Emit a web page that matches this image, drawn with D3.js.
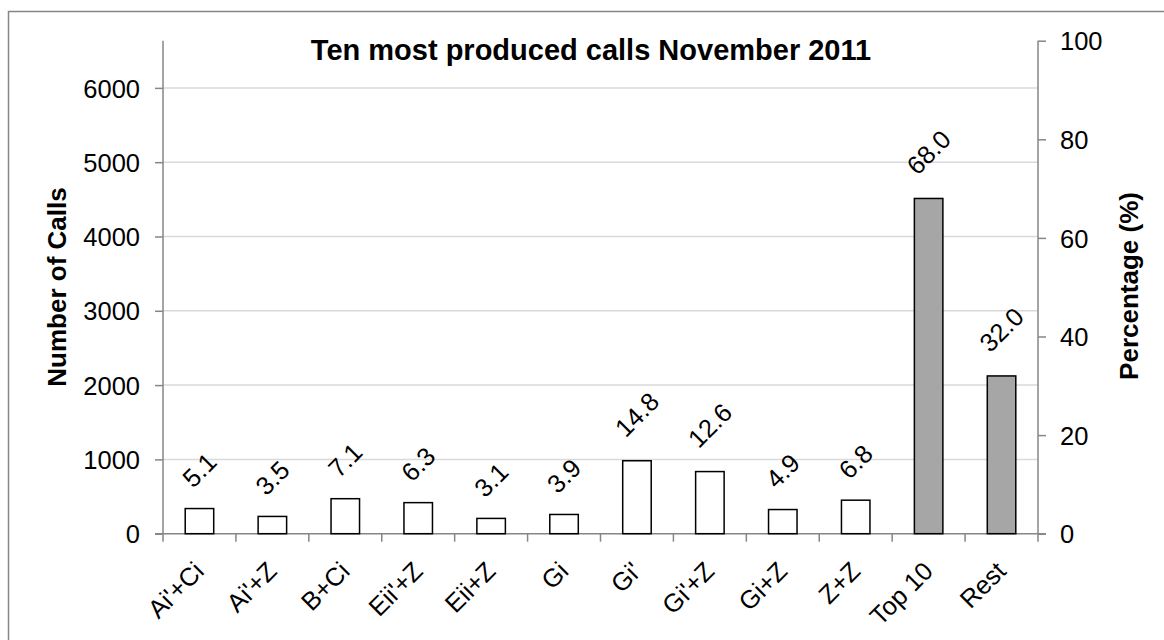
<!DOCTYPE html>
<html>
<head>
<meta charset="utf-8">
<script src="https://cdn.jsdelivr.net/npm/d3@7"></script>
<style>
  html, body { margin: 0; padding: 0; background: #fff; }
  svg { display: block; font-family: "Liberation Sans", Arial, sans-serif; }
</style>
</head>
<body>
<svg id="chart" width="1164" height="640"></svg>
<script>
// Call types, in display order
const categories = ["Ai'+Ci", "Ai'+Z", "B+Ci", "Eii'+Z", "Eii+Z", "Gi", "Gi'", "Gi'+Z", "Gi+Z", "Z+Z", "Top 10", "Rest"];
// Share of all calls (%)
const percentages = [5.1, 3.5, 7.1, 6.3, 3.1, 3.9, 14.8, 12.6, 4.9, 6.8, 68.0, 32.0];
// Summary bars are shaded grey
const summaryGroups = ["Top 10", "Rest"];
// Total number of calls: the count axis spans 0..total so it lines up with 0..100 %
const totalCalls = 6635;
const countTicks = [0, 1000, 2000, 3000, 4000, 5000, 6000];
const percentTicks = [0, 20, 40, 60, 80, 100];

const svg = d3.select("#chart");
const axisGrey = "#868686";
const gridGrey = "#d9d9d9";
const labelSize = 25.5;

const plotLeft = 163, plotRight = 1038, plotTop = 40.7, plotBottom = 533.7;

const x = d3.scaleBand().domain(categories).range([plotLeft, plotRight]).paddingInner(0).paddingOuter(0);
const yCount = d3.scaleLinear().domain([0, totalCalls]).range([plotBottom, plotTop]);
const yPct = d3.scaleLinear().domain([0, 100]).range([plotBottom, plotTop]);

// outer frame
svg.append("rect")
  .attr("x", 8.5).attr("y", 11.5).attr("width", 1200).attr("height", 700)
  .attr("fill", "none").attr("stroke", axisGrey).attr("stroke-width", 1.5);

// horizontal gridlines on the count axis
svg.append("g")
  .selectAll("line")
  .data(countTicks.filter(d => d > 0))
  .join("line")
  .attr("x1", plotLeft).attr("x2", plotRight)
  .attr("y1", d => yCount(d)).attr("y2", d => yCount(d))
  .attr("stroke", gridGrey).attr("stroke-width", 1.5);

// left axis (number of calls)
const leftAxis = svg.append("g")
  .attr("transform", `translate(${plotLeft},0)`)
  .call(d3.axisLeft(yCount).tickValues(countTicks).tickSize(8).tickPadding(15).tickSizeOuter(0).tickFormat(d3.format("d")));
leftAxis.select(".domain").attr("stroke", axisGrey).attr("stroke-width", 1.5)
  .attr("d", `M0,${plotBottom}V${plotTop}`);
leftAxis.selectAll(".tick line").attr("stroke", axisGrey).attr("stroke-width", 1.5);
leftAxis.selectAll(".tick text").attr("font-size", labelSize).attr("fill", "#000")
  .attr("font-family", "Liberation Sans, Arial, sans-serif").attr("dy", "0.36em");

// right axis (percentage)
const rightAxis = svg.append("g")
  .attr("transform", `translate(${plotRight},0)`)
  .call(d3.axisRight(yPct).tickValues(percentTicks).tickSize(8).tickPadding(14).tickSizeOuter(0));
rightAxis.select(".domain").attr("stroke", axisGrey).attr("stroke-width", 1.5)
  .attr("d", `M0,${plotBottom}V${plotTop}`);
rightAxis.selectAll(".tick line").attr("stroke", axisGrey).attr("stroke-width", 1.5);
rightAxis.selectAll(".tick text").attr("font-size", labelSize).attr("fill", "#000")
  .attr("font-family", "Liberation Sans, Arial, sans-serif").attr("dy", "0.36em");

// category axis: line plus boundary ticks
const catAxis = svg.append("g");
catAxis.append("line")
  .attr("x1", plotLeft - 8).attr("x2", plotRight + 8)
  .attr("y1", plotBottom).attr("y2", plotBottom)
  .attr("stroke", axisGrey).attr("stroke-width", 1.5);
const boundaries = categories.map(c => x(c)).concat([x(categories[categories.length - 1]) + x.bandwidth()]);
catAxis.selectAll("line.bound")
  .data(boundaries)
  .join("line").attr("class", "bound")
  .attr("x1", d => d).attr("x2", d => d)
  .attr("y1", plotBottom).attr("y2", plotBottom + 8)
  .attr("stroke", axisGrey).attr("stroke-width", 1.5);

// category labels, rotated
catAxis.selectAll("text")
  .data(categories)
  .join("text")
  .attr("text-anchor", "end")
  .attr("font-size", labelSize)
  .attr("transform", d => `translate(${x(d) + x.bandwidth() / 2 + 6},${plotBottom + 39}) rotate(-45)`)
  .text(d => d);

// bars
const barW = 28.5;
const rows = categories.map((c, i) => ({ cat: c, pct: percentages[i] }));
svg.append("g")
  .selectAll("rect")
  .data(rows)
  .join("rect")
  .attr("x", d => x(d.cat) + x.bandwidth() / 2 - barW / 2)
  .attr("width", barW)
  .attr("y", d => yPct(d.pct))
  .attr("height", d => yPct(0) - yPct(d.pct))
  .attr("fill", d => summaryGroups.includes(d.cat) ? "#a6a6a6" : "#ffffff")
  .attr("stroke", "#000").attr("stroke-width", 1.5);

// value labels, rotated above each bar
const labels = svg.append("g")
  .selectAll("text")
  .data(rows)
  .join("text")
  .attr("text-anchor", "middle")
  .attr("font-size", labelSize)
  .attr("dy", "0.35em")
  .text(d => d3.format(".1f")(d.pct));
labels.each(function (d) {
  const len = this.getComputedTextLength();
  const lift = 38.5 + (len - 35.4) * 0.54;
  d3.select(this).attr("transform",
    `translate(${x(d.cat) + x.bandwidth() / 2},${yPct(d.pct) - lift}) rotate(-45)`);
});

// title
svg.append("text")
  .attr("x", 591).attr("y", 59.5)
  .attr("text-anchor", "middle")
  .attr("font-size", 29).attr("font-weight", "bold")
  .text("Ten most produced calls November 2011");

// axis titles
svg.append("text")
  .attr("transform", "translate(66,287) rotate(-90)")
  .attr("text-anchor", "middle")
  .attr("font-size", 26).attr("font-weight", "bold")
  .text("Number of Calls");
svg.append("text")
  .attr("transform", "translate(1138,286) rotate(-90)")
  .attr("text-anchor", "middle")
  .attr("font-size", 26).attr("font-weight", "bold")
  .text("Percentage (%)");
</script>
</body>
</html>
